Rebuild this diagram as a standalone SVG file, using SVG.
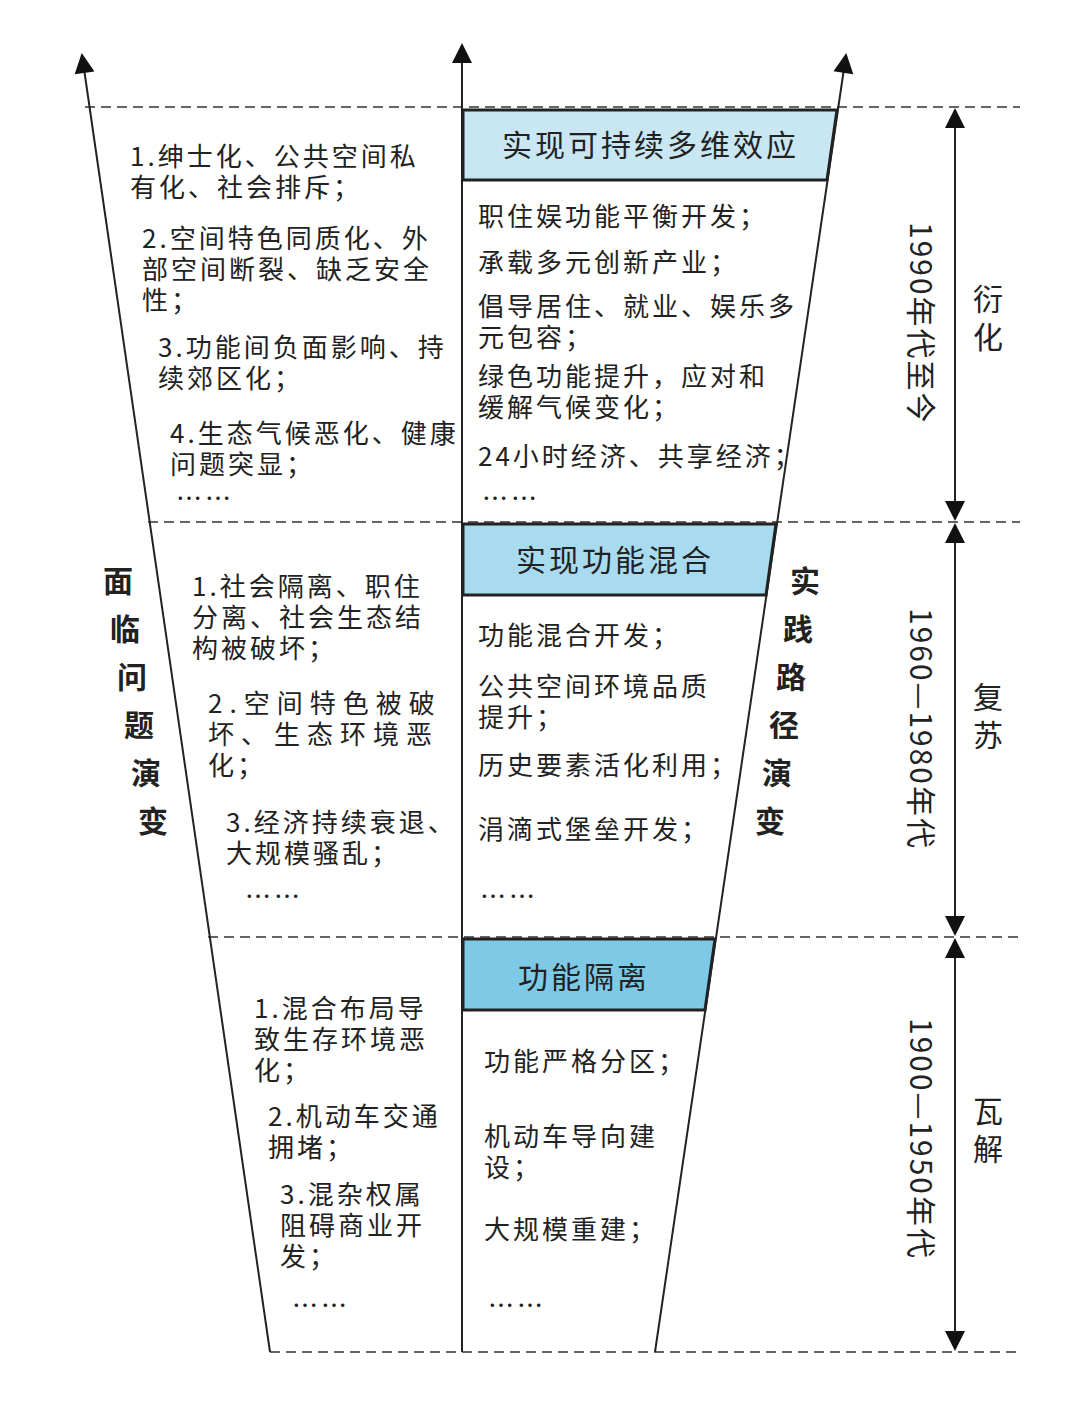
<svg xmlns="http://www.w3.org/2000/svg" width="1080" height="1411" viewBox="0 0 1080 1411">
<defs>
<marker id="big" viewBox="0 0 10 10" refX="9" refY="5" markerWidth="28" markerHeight="20" markerUnits="userSpaceOnUse" orient="auto-start-reverse"><path d="M0,0 L10,5 L0,10 z" fill="#111"/></marker>
<style>
text{font-family:"Noto Sans CJK SC","Noto Sans",sans-serif;fill:#222;font-size:26px;letter-spacing:3px}
.d{stroke:#333;stroke-width:1.5;stroke-dasharray:10,6;fill:none}
.l{stroke:#222;stroke-width:2;fill:none}
.box{stroke:#222;stroke-width:3}
.v{font-size:30px;font-weight:bold}
.h{font-size:30px;letter-spacing:3px}
</style>
</defs>
<rect width="1080" height="1411" fill="#fff"/>
<g id="connectors">
<line class="d" x1="85" y1="107" x2="1020" y2="107"/>
<line class="d" x1="148" y1="522" x2="1020" y2="522"/>
<line class="d" x1="208" y1="937" x2="1020" y2="937"/>
<line class="d" x1="270" y1="1352" x2="1020" y2="1352"/>
<line class="l" x1="270" y1="1352" x2="82" y2="55" marker-end="url(#big)"/>
<line class="l" x1="655" y1="1352" x2="846" y2="55" marker-end="url(#big)"/>
<line class="l" stroke-width="3" x1="462" y1="1352" x2="462" y2="45" marker-end="url(#big)"/>
<line class="l" x1="955" y1="110" x2="955" y2="519" marker-start="url(#big)" marker-end="url(#big)"/>
<line class="l" x1="955" y1="525" x2="955" y2="934" marker-start="url(#big)" marker-end="url(#big)"/>
<line class="l" x1="955" y1="940" x2="955" y2="1349" marker-start="url(#big)" marker-end="url(#big)"/>
</g>
<g id="box1"><polygon class="box" points="463,110 837,110 827,180 463,180" fill="#c8e7f3"/><text class="h" x="502" y="156">实现可持续多维效应</text></g>
<g id="box2"><polygon class="box" points="463,524 776,524 766,595 463,595" fill="#a8dbef"/><text class="h" x="516" y="571">实现功能混合</text></g>
<g id="box3"><polygon class="box" points="463,939 715,939 705,1010 463,1010" fill="#7ecae6"/><text class="h" x="518" y="988">功能隔离</text></g>
<g id="left1">
<text x="130" y="166">1.绅士化、公共空间私</text><text x="130" y="197">有化、社会排斥；</text>
<text x="142" y="248">2.空间特色同质化、外</text><text x="142" y="279">部空间断裂、缺乏安全</text><text x="142" y="310">性；</text>
<text x="158" y="357">3.功能间负面影响、持</text><text x="158" y="388">续郊区化；</text>
<text x="170" y="443">4.生态气候恶化、健康</text><text x="170" y="474">问题突显；</text>
<text x="176" y="508">……</text>
</g>
<g id="right1">
<text x="478" y="226">职住娱功能平衡开发；</text>
<text x="478" y="272">承载多元创新产业；</text>
<text x="478" y="316">倡导居住、就业、娱乐多</text><text x="478" y="347">元包容；</text>
<text x="478" y="386">绿色功能提升，应对和</text><text x="478" y="417">缓解气候变化；</text>
<text x="478" y="466">24小时经济、共享经济；</text>
<text x="482" y="508">……</text>
</g>
<g id="left2">
<text x="192" y="596">1.社会隔离、职住</text><text x="192" y="627">分离、社会生态结</text><text x="192" y="658">构被破坏；</text>
<text x="208" y="713" style="letter-spacing:7px">2.空间特色被破</text><text x="208" y="744" style="letter-spacing:7px">坏、生态环境恶</text><text x="208" y="775">化；</text>
<text x="226" y="832">3.经济持续衰退、</text><text x="226" y="863">大规模骚乱；</text>
<text x="245" y="906">……</text>
</g>
<g id="right2">
<text x="478" y="645">功能混合开发；</text>
<text x="478" y="696">公共空间环境品质</text><text x="478" y="727">提升；</text>
<text x="478" y="775">历史要素活化利用；</text>
<text x="478" y="839">涓滴式堡垒开发；</text>
<text x="480" y="906">……</text>
</g>
<g id="left3">
<text x="254" y="1018">1.混合布局导</text><text x="254" y="1049">致生存环境恶</text><text x="254" y="1080">化；</text>
<text x="268" y="1126">2.机动车交通</text><text x="268" y="1157">拥堵；</text>
<text x="280" y="1204">3.混杂权属</text><text x="280" y="1235">阻碍商业开</text><text x="280" y="1266">发；</text>
<text x="292" y="1315">……</text>
</g>
<g id="right3">
<text x="484" y="1071">功能严格分区；</text>
<text x="484" y="1146">机动车导向建</text><text x="484" y="1177">设；</text>
<text x="484" y="1239">大规模重建；</text>
<text x="488" y="1315">……</text>
</g>
<g id="vlabels">
<text class="v" x="103" y="592">面</text><text class="v" x="110" y="640">临</text><text class="v" x="117" y="688">问</text><text class="v" x="124" y="736">题</text><text class="v" x="131" y="784">演</text><text class="v" x="138" y="832">变</text>
<text class="v" x="790" y="592">实</text><text class="v" x="783" y="640">践</text><text class="v" x="776" y="688">路</text><text class="v" x="769" y="736">径</text><text class="v" x="762" y="784">演</text><text class="v" x="755" y="832">变</text>
</g>
<g id="periods">
<text class="h" transform="translate(910,222) rotate(90)" style="letter-spacing:2px">1990年代至今</text>
<text class="h" transform="translate(910,608) rotate(90)" style="letter-spacing:2px">1960—1980年代</text>
<text class="h" transform="translate(910,1018) rotate(90)" style="letter-spacing:2px">1900—1950年代</text>
<text class="h" x="973" y="310">衍</text><text class="h" x="973" y="348">化</text>
<text class="h" x="973" y="708">复</text><text class="h" x="973" y="746">苏</text>
<text class="h" x="973" y="1122">瓦</text><text class="h" x="973" y="1160">解</text>
</g>
</svg>
